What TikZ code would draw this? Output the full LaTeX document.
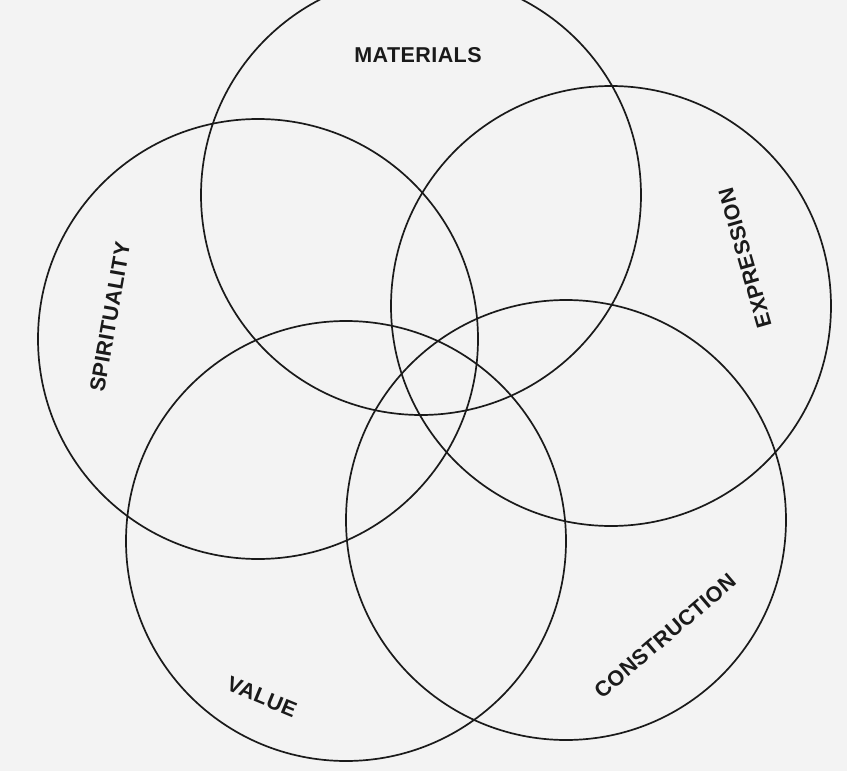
\documentclass[tikz,border=0pt]{standalone}
\usepackage{fontspec}
\newfontfamily\lblfont{Liberation Sans}[LetterSpace=2]
\definecolor{paper}{HTML}{F3F3F3}
\definecolor{ink}{HTML}{1A1A1A}
\tikzset{
  ring/.style={circle, draw=ink, line width=1.7pt, minimum size=440pt, inner sep=0pt, outer sep=0pt},
  lbl/.style={text=ink, inner sep=0pt, font=\lblfont\bfseries\fontsize{21.5}{23}\selectfont}
}
\begin{document}
\begin{tikzpicture}[x=1pt,y=-1pt]
\useasboundingbox (0,0) rectangle (847,771);
\fill[paper] (0,0) rectangle (847,771);
\clip (0,0) rectangle (847,771);
\node[ring] (mat) at (421,195) {};
\node[ring] (exp) at (611,306) {};
\node[ring] (con) at (566,520) {};
\node[ring] (val) at (346,541) {};
\node[ring] (spi) at (258,339) {};
\node[lbl] (tmat) at (418,55) {MATERIALS};
\node[lbl, rotate=80] (tspi) at (110,317) {SPIRITUALITY};
\node[lbl, rotate=106] (texp) at (745,258) {EXPRESSION};
\node[lbl, rotate=40.5] (tcon) at (665,636) {CONSTRUCTION};
\node[lbl, rotate=-22.5] (tval) at (262,697) {VALUE};
\end{tikzpicture}
\end{document}
